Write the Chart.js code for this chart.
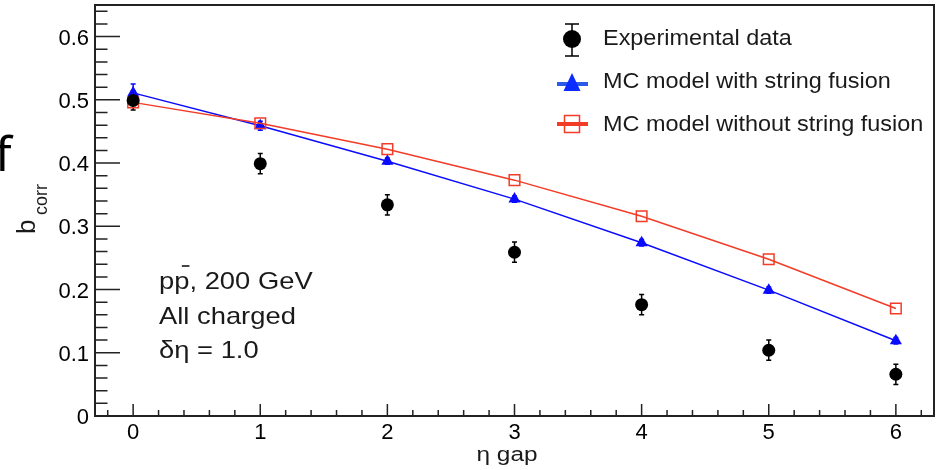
<!DOCTYPE html>
<html>
<head>
<meta charset="utf-8">
<script src="https://cdn.jsdelivr.net/npm/chart.js@4.4.1/dist/chart.umd.min.js"></script>
<style>
  html, body { margin: 0; padding: 0; background: #fff; }
  #wrap { width: 938px; height: 470px; }
</style>
</head>
<body>
<div id="wrap"><canvas id="bcorr" width="938" height="470"></canvas></div>
<script>
/* ---------- data ---------- */
const etaGap = [0, 1, 2, 3, 4, 5, 6];
const expData = [0.499, 0.399, 0.334, 0.259, 0.176, 0.104, 0.066];
const expErr = [0.015, 0.016, 0.016, 0.016, 0.016, 0.016, 0.016];
const fusionData = [0.511, 0.459, 0.403, 0.343, 0.274, 0.199, 0.119];
const fusionErr = [0.014, 0.007, 0.005, 0.005, 0.005, 0.005, 0.005];
const noFusionData = [0.496, 0.463, 0.422, 0.373, 0.316, 0.248, 0.170];
const seriesNames = ["Experimental data", "MC model with string fusion", "MC model without string fusion"];
const xTickValues = [0, 1, 2, 3, 4, 5, 6];
const yTickValues = [0, 0.1, 0.2, 0.3, 0.4, 0.5, 0.6];
const infoLines = ["pp, 200 GeV", "All charged", "δη = 1.0"];

const FONT = "'Liberation Sans', Arial, sans-serif";
const BLUE = "#0a0aff";
const RED = "#f23c28";
const INK = "#1a1a1a";

const toPoints = (ys) => etaGap.map((x, i) => ({ x: x, y: ys[i] }));

// text with a horizontal stretch (ROOT's Helvetica runs wider than Arial)
function wideText(ctx, str, x, y, sx, align) {
  ctx.save();
  ctx.translate(x, y);
  ctx.scale(sx, 1);
  ctx.textAlign = align || "left";
  ctx.fillText(str, 0, 0);
  ctx.restore();
}

/* ---------- error bars, drawn under the markers ---------- */
const errorBars = {
  id: "errorBars",
  beforeDatasetsDraw(chart) {
    const ctx = chart.ctx;
    const xs = chart.scales.x, ys = chart.scales.y;
    const sets = [[expData, expErr, "#000"], [fusionData, fusionErr, BLUE]];
    ctx.save();
    ctx.lineWidth = 1.5;
    for (const [vals, errs, col] of sets) {
      ctx.strokeStyle = col;
      etaGap.forEach((g, i) => {
        const px = xs.getPixelForValue(g);
        const top = ys.getPixelForValue(vals[i] + errs[i]);
        const bot = ys.getPixelForValue(vals[i] - errs[i]);
        ctx.beginPath();
        ctx.moveTo(px, top); ctx.lineTo(px, bot);
        ctx.moveTo(px - 2.5, top); ctx.lineTo(px + 2.5, top);
        ctx.moveTo(px - 2.5, bot); ctx.lineTo(px + 2.5, bot);
        ctx.stroke();
      });
    }
    ctx.restore();
  }
};

/* ---------- ROOT style frame, inner ticks, labels and legend ---------- */
const frameAndText = {
  id: "frameAndText",
  afterDraw(chart) {
    const ctx = chart.ctx;
    const a = chart.chartArea;
    const xs = chart.scales.x, ys = chart.scales.y;
    ctx.save();

    // frame
    ctx.strokeStyle = "#222";
    ctx.lineWidth = 2;
    ctx.strokeRect(a.left, a.top, a.right - a.left, a.bottom - a.top);

    // x ticks: major every 1, minor every 0.2
    ctx.lineWidth = 1.5;
    ctx.beginPath();
    for (let k = -1; k <= 31; k++) {
      const px = xs.getPixelForValue(k / 5);
      if (px < a.left + 1 || px > a.right - 1) continue;
      const len = k % 5 === 0 ? 12 : 6;
      ctx.moveTo(px, a.bottom); ctx.lineTo(px, a.bottom - len);
    }
    // y ticks: major every 0.1, minor every 0.02
    for (let k = 0; k <= 32; k++) {
      const py = ys.getPixelForValue(k / 50);
      if (py < a.top + 1) continue;
      const len = k % 5 === 0 ? 25 : 12.5;
      ctx.moveTo(a.left, py); ctx.lineTo(a.left + len, py);
    }
    ctx.stroke();

    // tick labels
    ctx.fillStyle = "#000";
    ctx.font = "22px " + FONT;
    ctx.textBaseline = "alphabetic";
    xTickValues.forEach((v) => wideText(ctx, String(v), xs.getPixelForValue(v), 439, 1, "center"));
    yTickValues.forEach((v) => {
      const s = v === 0 ? "0" : v.toFixed(1);
      wideText(ctx, s, a.left - 6, ys.getPixelForValue(v) + 8, 1, "right");
    });

    // axis titles
    ctx.fillStyle = INK;
    ctx.font = "20px " + FONT;
    wideText(ctx, "η gap", 507, 461, 1.22, "center");

    ctx.save();
    ctx.translate(35, 234);
    ctx.rotate(-Math.PI / 2);
    ctx.textAlign = "left";
    ctx.font = "26px " + FONT;
    ctx.fillText("b", 0, 0);
    ctx.font = "18px " + FONT;
    ctx.fillText("corr", 19, 12);
    ctx.restore();

    // panel letter
    ctx.font = "48px 'Noto Sans', sans-serif";
    ctx.fillStyle = "#000";
    wideText(ctx, "f", -5, 171, 1, "left");

    // info text, with the bar over the antiproton
    ctx.fillStyle = INK;
    ctx.font = "24px " + FONT;
    const bases = [289, 324, 358];
    infoLines.forEach((t, i) => wideText(ctx, t, 159, bases[i], 1.14, "left"));
    const pw = ctx.measureText("p").width * 1.14;
    ctx.strokeStyle = "#444";
    ctx.lineWidth = 2;
    ctx.beginPath();
    ctx.moveTo(159 + pw * 1.5, 266);
    ctx.lineTo(159 + pw * 2.0, 266);
    ctx.stroke();

    // legend
    const mx = 572;
    const rows = [39, 84, 124];
    const textBase = [45, 88, 131];
    ctx.strokeStyle = "#000";
    ctx.lineWidth = 1.5;
    ctx.beginPath();
    ctx.moveTo(mx, 24); ctx.lineTo(mx, 56);
    ctx.moveTo(mx - 7, 24); ctx.lineTo(mx + 7, 24);
    ctx.moveTo(mx - 7, 56); ctx.lineTo(mx + 7, 56);
    ctx.stroke();
    ctx.fillStyle = "#000";
    ctx.beginPath();
    ctx.arc(mx, rows[0], 9, 0, Math.PI * 2);
    ctx.fill();

    ctx.strokeStyle = "#2b5be6";
    ctx.lineWidth = 4;
    ctx.beginPath();
    ctx.moveTo(557, rows[1]); ctx.lineTo(588, rows[1]);
    ctx.stroke();
    ctx.fillStyle = "#0a2cff";
    ctx.beginPath();
    ctx.moveTo(mx, rows[1] - 11);
    ctx.lineTo(mx + 8.5, rows[1] + 7);
    ctx.lineTo(mx - 8.5, rows[1] + 7);
    ctx.closePath();
    ctx.fill();

    ctx.strokeStyle = RED;
    ctx.lineWidth = 4;
    ctx.beginPath();
    ctx.moveTo(557, rows[2]); ctx.lineTo(588, rows[2]);
    ctx.stroke();
    ctx.lineWidth = 1.5;
    ctx.strokeRect(mx - 7.5, rows[2] - 8.5, 15, 17);

    ctx.fillStyle = INK;
    ctx.font = "22px " + FONT;
    seriesNames.forEach((t, i) => wideText(ctx, t, 603, textBase[i], 1.065, "left"));

    ctx.restore();
  }
};

/* ---------- chart ---------- */
new Chart(document.getElementById("bcorr"), {
  type: "scatter",
  plugins: [errorBars, frameAndText],
  data: {
    datasets: [
      {
        label: seriesNames[0],
        data: toPoints(expData),
        showLine: false,
        pointStyle: "circle",
        pointRadius: 6.5,
        pointBackgroundColor: "#000",
        pointBorderWidth: 0,
        order: 0,
      },
      {
        label: seriesNames[1],
        data: toPoints(fusionData),
        showLine: true,
        borderColor: BLUE,
        borderWidth: 1.5,
        pointStyle: "triangle",
        pointRadius: 7,
        pointBackgroundColor: BLUE,
        pointBorderWidth: 0,
        order: 2,
      },
      {
        label: seriesNames[2],
        data: toPoints(noFusionData),
        showLine: true,
        borderColor: RED,
        borderWidth: 1.5,
        pointStyle: "rect",
        pointRadius: 7.5,
        pointBackgroundColor: "rgba(0,0,0,0)",
        pointBorderColor: RED,
        pointBorderWidth: 1.5,
        order: 1,
      },
    ],
  },
  options: {
    responsive: false,
    animation: false,
    layout: { autoPadding: false, padding: { left: 0, top: 5, right: 4, bottom: 0 } },
    plugins: { legend: { display: false }, tooltip: { enabled: false } },
    scales: {
      x: {
        type: "linear",
        min: -0.3,
        max: 6.3,
        afterBuildTicks: (s) => { s.ticks = xTickValues.map((v) => ({ value: v })); },
        afterFit: (s) => { s.height = 54; s.paddingLeft = 0; s.paddingRight = 0; },
        grid: { display: false, drawTicks: false },
        border: { display: false },
        ticks: { display: false },
      },
      y: {
        min: 0,
        max: 0.65,
        afterBuildTicks: (s) => { s.ticks = yTickValues.map((v) => ({ value: v })); },
        afterFit: (s) => { s.width = 95; s.paddingTop = 0; s.paddingBottom = 0; },
        grid: { display: false, drawTicks: false },
        border: { display: false },
        ticks: { display: false },
      },
    },
  },
});
</script>
</body>
</html>
